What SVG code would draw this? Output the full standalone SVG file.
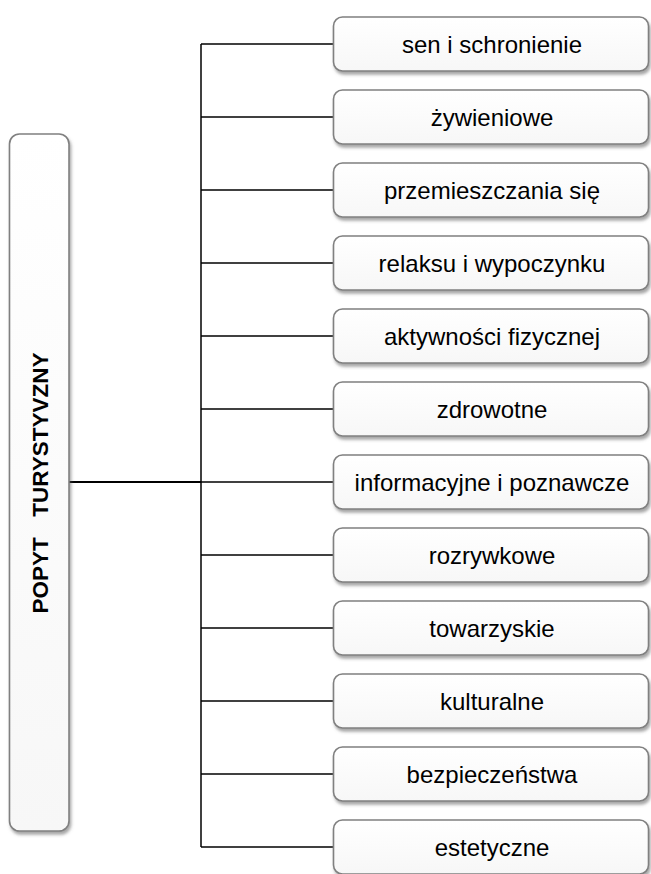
<svg xmlns="http://www.w3.org/2000/svg" width="651" height="874" viewBox="0 0 651 874">
<style>
.box{fill:url(#g);stroke:#808080;stroke-width:1.6;filter:url(#sh)}
.lbl{font-family:"Liberation Sans",Arial,sans-serif;font-size:24px;fill:#000;text-anchor:middle}
.main{font-family:"Liberation Sans",Arial,sans-serif;font-size:22.5px;font-weight:bold;fill:#000;text-anchor:middle;white-space:pre}
.ln{stroke:#000;stroke-width:1.5;fill:none}
</style>
<defs>
<linearGradient id="g" x1="0" y1="0" x2="0" y2="1">
<stop offset="0" stop-color="#ffffff"/>
<stop offset="1" stop-color="#f7f7f7"/>
</linearGradient>
<filter id="sh" x="-10%" y="-10%" width="120%" height="130%">
<feDropShadow dx="1.5" dy="3" stdDeviation="1.8" flood-color="#606060" flood-opacity="0.55"/>
</filter>
</defs>
<rect width="651" height="874" fill="#fff"/>
<g id="connectors">
<line class="ln" x1="201" y1="44" x2="201" y2="847"/>
<line class="ln" x1="69" y1="482" x2="201" y2="482" style="stroke-width:2"/>
<line class="ln" x1="201" y1="44" x2="334" y2="44"/>
<line class="ln" x1="201" y1="117" x2="334" y2="117"/>
<line class="ln" x1="201" y1="190" x2="334" y2="190"/>
<line class="ln" x1="201" y1="263" x2="334" y2="263"/>
<line class="ln" x1="201" y1="336" x2="334" y2="336"/>
<line class="ln" x1="201" y1="409" x2="334" y2="409"/>
<line class="ln" x1="201" y1="482" x2="334" y2="482"/>
<line class="ln" x1="201" y1="555" x2="334" y2="555"/>
<line class="ln" x1="201" y1="628" x2="334" y2="628"/>
<line class="ln" x1="201" y1="701" x2="334" y2="701"/>
<line class="ln" x1="201" y1="774" x2="334" y2="774"/>
<line class="ln" x1="201" y1="847" x2="334" y2="847"/>
</g>
<g id="popyt">
<rect class="box" x="9.5" y="134" width="59.5" height="697" rx="10"/>
<text class="main" transform="translate(48,483) rotate(-90)">POPYT  <tspan dx="8">TURYSTYVZNY</tspan></text>
</g>
<g id="n1"><rect class="box" x="333.5" y="17" width="315" height="54" rx="9"/><text class="lbl" x="492" y="53">sen i schronienie</text></g>
<g id="n2"><rect class="box" x="333.5" y="90" width="315" height="54" rx="9"/><text class="lbl" x="492" y="126">żywieniowe</text></g>
<g id="n3"><rect class="box" x="333.5" y="163" width="315" height="54" rx="9"/><text class="lbl" x="492" y="199">przemieszczania się</text></g>
<g id="n4"><rect class="box" x="333.5" y="236" width="315" height="54" rx="9"/><text class="lbl" x="492" y="272">relaksu i wypoczynku</text></g>
<g id="n5"><rect class="box" x="333.5" y="309" width="315" height="54" rx="9"/><text class="lbl" x="492" y="345">aktywności fizycznej</text></g>
<g id="n6"><rect class="box" x="333.5" y="382" width="315" height="54" rx="9"/><text class="lbl" x="492" y="418">zdrowotne</text></g>
<g id="n7"><rect class="box" x="333.5" y="455" width="315" height="54" rx="9"/><text class="lbl" x="492" y="491">informacyjne i poznawcze</text></g>
<g id="n8"><rect class="box" x="333.5" y="528" width="315" height="54" rx="9"/><text class="lbl" x="492" y="564">rozrywkowe</text></g>
<g id="n9"><rect class="box" x="333.5" y="601" width="315" height="54" rx="9"/><text class="lbl" x="492" y="637">towarzyskie</text></g>
<g id="n10"><rect class="box" x="333.5" y="674" width="315" height="54" rx="9"/><text class="lbl" x="492" y="710">kulturalne</text></g>
<g id="n11"><rect class="box" x="333.5" y="747" width="315" height="54" rx="9"/><text class="lbl" x="492" y="783">bezpieczeństwa</text></g>
<g id="n12"><rect class="box" x="333.5" y="820" width="315" height="54" rx="9"/><text class="lbl" x="492" y="856">estetyczne</text></g>
</svg>
